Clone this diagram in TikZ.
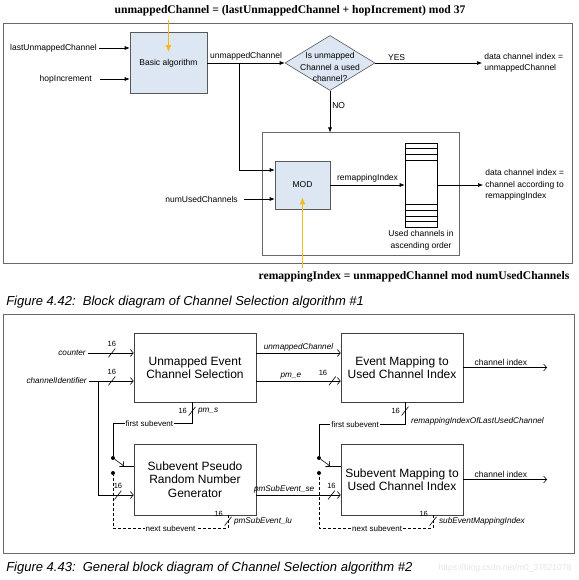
\documentclass[tikz,border=0pt]{standalone}
\usepackage{fontspec}
\setmainfont{Liberation Sans}
\newfontfamily\formulafont{Liberation Serif}
\usepackage{xcolor}
\usepackage{tikz}
\usetikzlibrary{positioning}
\usetikzlibrary{arrows.meta,shapes.geometric}
\definecolor{blockblue}{RGB}{221,230,243}
\definecolor{hintorange}{RGB}{246,186,22}
\definecolor{framegray}{RGB}{105,105,105}
\tikzset{edge/.style = {-{Latex[length=5pt,width=4pt]}}}
\tikzset{open edge/.style = {-{Straight Barb[length=3pt,width=7pt]}}}
\tikzset{bus/.style = {inner sep=0pt, minimum width=7pt, minimum height=9pt,
    path picture={\draw[solid,-,line width=0.6pt] (path picture bounding box.south west) -- (path picture bounding box.north east);},
    label={[font=\fontsize{7.5}{8}\selectfont, inner sep=1pt]#1:16}},
  bus/.default=above}

\begin{document}
\begin{tikzpicture}[x=1pt,y=-1pt,line width=0.6pt,
    label text/.style={font=\fontsize{8.5}{11.5}\selectfont, inner sep=2pt},
    italic text/.style={font=\fontsize{8.2}{10}\selectfont\itshape, inner sep=2pt},
    line text/.style={font=\fontsize{8}{10}\selectfont, fill=white, inner sep=1pt},
    main node/.style={draw=black!65, fill=blockblue, font=\fontsize{8.5}{11}\selectfont},
    big node/.style={draw=black!75, align=center, inner sep=2pt, minimum width=122pt, font=\fontsize{12}{13.5}\selectfont},
    frame node/.style={draw=framegray, line width=1pt, inner sep=0pt},
    formula/.style={font=\formulafont\bfseries\fontsize{11.6}{13}\selectfont},
    caption/.style={font=\fontsize{13}{15}\selectfont\itshape, anchor=west, inner sep=0pt},
    dot/.style={circle, fill, inner sep=0pt, minimum size=4pt},
    hint/.style={hintorange, line width=1.3pt, -{Latex[length=7pt,width=6pt]}}]
\useasboundingbox (0,0) rectangle (578,580);
\fill[white] (0,0) rectangle (578,580);

% Figure 4.42
\node[frame node, minimum width=569pt, minimum height=239pt] (frame1) at (287.5,143.5) {};
\node[frame node, minimum width=197pt, minimum height=122pt] (modframe) at (360.5,194) {};
\node[formula] (f1) at (290,11) {unmappedChannel = (lastUnmappedChannel + hopIncrement) mod 37};
\node[main node, minimum width=77pt, minimum height=61pt] (basic) at (168.5,63) {Basic algorithm};
\node[label text, anchor=east] (last) at (99,48) {lastUnmappedChannel};
\node[label text, anchor=east] (hop) at (94,79) {hopIncrement};
\node[main node, diamond, minimum width=90pt, minimum height=55pt, inner sep=0pt,
    label={[label text, align=center, yshift=-4pt]center:Is unmapped\\Channel a used\\channel?}] (used) at (330,63) {};
\node[label text, anchor=west, align=left] (dci1) at (482,63) {data channel index =\\unmappedChannel};
\node[main node, minimum width=55pt, minimum height=48pt] (mod) at (302.5,185) {MOD};
\node[label text, anchor=east] (numused) at (240,199) {numUsedChannels};
\node[draw, minimum width=32pt, minimum height=84pt, inner sep=0pt] (tbl) at (421,185) {};
\node[label text, align=center, below=1pt of tbl] (tbltxt) {Used channels in\\ascending order};
\node[label text, anchor=west, align=left] (dci2) at (483,185) {data channel index =\\channel according to\\remappingIndex};
\node[formula] (f2) at (414,277) {remappingIndex = unmappedChannel mod numUsedChannels};
\node[caption] (cap1) at (6,302) {Figure 4.42:\ \ Block diagram of Channel Selection algorithm \#1};
\coordinate (branch) at (239,63);

\foreach \d in {6,12,18}
    \draw[line width=0.4pt] ([yshift=-\d pt]tbl.north west) -- ([yshift=-\d pt]tbl.north east);
\foreach \d in {6,11,17,23}
    \draw[line width=0.4pt] ([yshift=\d pt]tbl.south west) -- ([yshift=\d pt]tbl.south east);

\draw[edge] (last.east) -- (last.east -| basic.west);
\draw[edge, shorten <=6pt] (hop.east) -- (hop.east -| basic.west);
\draw[edge] (basic.east) -- node[label text, above] {unmappedChannel} (used.west);
\draw[edge] (used.east) -- node[label text, above, pos=.2] {YES} (dci1.west);
\draw[edge] (used.south) -- node[label text, right, pos=.35] {NO} (used.south |- modframe.north);
\draw[edge] (branch) |- ([yshift=15pt]mod.west);
\draw[edge, shorten <=4pt] (numused.east) -- (numused.east -| mod.west);
\draw[edge] (mod.east) -- node[label text, above] {remappingIndex} (tbl.west);
\draw[edge] (tbl.east) -- (dci2.west);
\draw[hint] (f1.south -| basic) -- ([yshift=-20pt]basic.north);
\draw[hint] (f2.north -| mod) -- ([yshift=12pt]mod.south);

% Figure 4.43
\node[frame node, minimum width=571pt, minimum height=239pt] (frame2) at (288.5,433.5) {};
\node[big node, minimum height=69pt] (uecs) at (195,367.5) {Unmapped Event\\Channel Selection};
\node[big node, minimum height=69pt] (emap) at (402,367.5) {Event Mapping to\\Used Channel Index};
\node[big node, minimum height=71pt] (sprng) at (195,479.5) {Subevent Pseudo\\Random Number\\Generator};
\node[big node, minimum height=71pt] (smap) at (402,479.5) {Subevent Mapping to\\Used Channel Index};
\node[italic text, anchor=east] (counter) at (88,353) {counter};
\node[italic text, anchor=east] (chanid) at (89,381) {channelIdentifier};
\node[dot] (swa1) at (113,458) {};
\node[dot] (swa2) at (113,473) {};
\node[dot] (swb1) at (319,458) {};
\node[dot] (swb2) at (319,473) {};
\node[caption] (cap2) at (6,568) {Figure 4.43:\ \ General block diagram of Channel Selection algorithm \#2};
\node[font=\fontsize{8.5}{10}\selectfont, text=black!10, anchor=east] (mark) at (575,568) {https://blog.csdn.net/m0\_37621078};
\coordinate (cid) at (98,381);
\coordinate (swa) at (124,466);
\coordinate (swb) at (330,466);
\coordinate (ci1) at (547,367.5);
\coordinate (ci2) at (547,479.5);

\draw[open edge] (counter.east) -- node[bus, pos=.52] {} (counter.east -| uecs.west);
\draw[open edge] (chanid.east) -- node[bus, pos=.51] {} (chanid.east -| uecs.west);
\draw[open edge] (cid) |- node[bus, pos=.78] {} ([yshift=-15.5pt]sprng.west);
\draw[open edge] ([yshift=14.5pt]uecs.east) -- node[italic text, above] {unmappedChannel} ([yshift=14.5pt]emap.west);
\draw[open edge] ([yshift=-13.5pt]uecs.east) -- node[italic text, above, pos=.41] {pm\_e}
    node[bus=above left, pos=.9] {} ([yshift=-13.5pt]emap.west);
\draw[open edge] ([yshift=-15.5pt]sprng.east) -- node[italic text, above, pos=.33] {pmSubEvent\_se}
    node[bus=above, pos=.89] {} ([yshift=-15.5pt]smap.west);
\draw[open edge] (emap.east) -- node[label text, above, pos=.45] {channel index} (ci1);
\draw[open edge] (smap.east) -- node[label text, above, pos=.45] {channel index} (ci2);

\draw ([xshift=-3pt]uecs.south) -- node[bus=left, pos=.43, label={[italic text]right:pm\_s}] {} ++(0,21)
    -| node[line text, pos=.27] {first subevent} (swa1);
\draw ([xshift=3pt]emap.south) -- node[bus=left, pos=.4, label={[italic text]below right:remappingIndexOfLastUsedChannel}] {} ++(0,22)
    -| node[line text, pos=.29] {first subevent} (swb1);
\draw[open edge] (swa1) -- (swa);
\draw ([xshift=-4pt]swa) -- (swa -| sprng.west);
\draw[open edge] (swb1) -- (swb);
\draw ([xshift=-4pt]swb) -- (swb -| smap.west);
\draw[dash pattern=on 3pt off 2pt] ([xshift=33pt]sprng.south) -- node[bus=above left, pos=.46, label={[italic text]right:pmSubEvent\_lu}] {} ++(0,13)
    -| node[line text, pos=.25] {next subevent} (swa2);
\draw[dash pattern=on 3pt off 2pt] ([xshift=31pt]smap.south) -- node[bus=above left, pos=.46, label={[italic text]right:subEventMappingIndex}] {} ++(0,13)
    -| node[line text, pos=.245] {next subevent} (swb2);
\end{tikzpicture}
\end{document}
